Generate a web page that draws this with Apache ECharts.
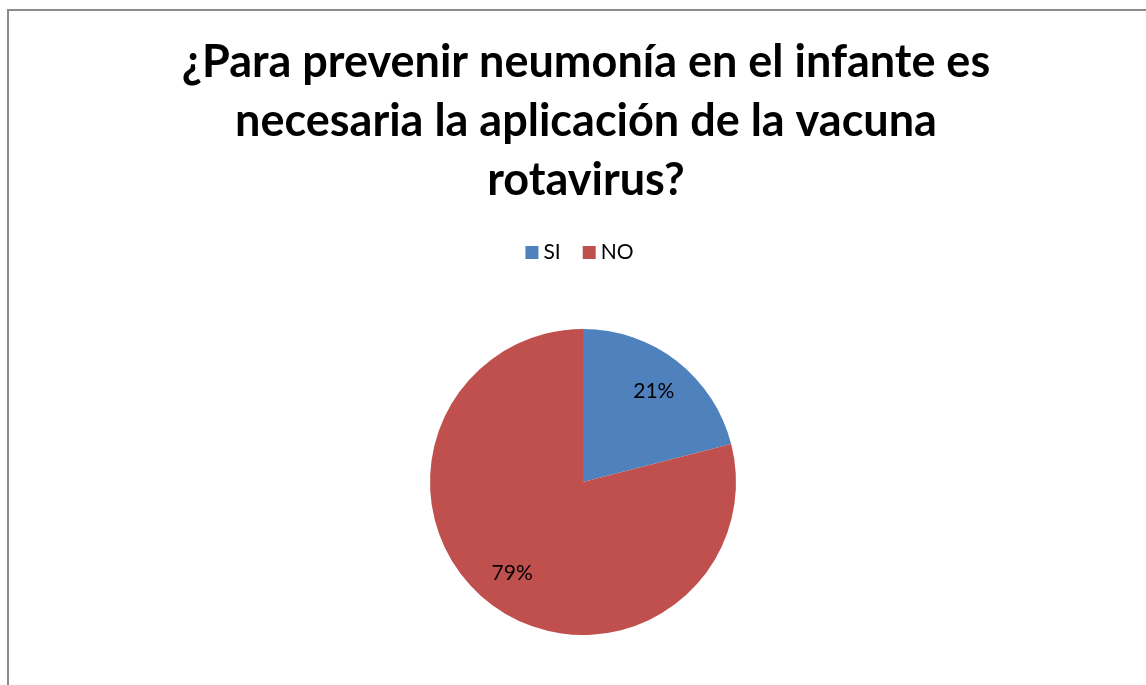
<!DOCTYPE html>
<html>
<head>
<meta charset="utf-8">
<script src="https://cdn.jsdelivr.net/npm/echarts@6/dist/echarts.min.js"></script>
<style>
  html, body { margin: 0; padding: 0; background: #fff; }
  #main { position: absolute; left: 7px; top: 9px; width: 1145px; height: 685px;
          border: 2px solid #8c8c8c; box-sizing: border-box; }
</style>
</head>
<body>
<div id="main"></div>
<script>
const categories = ['SI', 'NO'];
const values = [21, 79];
const colors = ['#4F81BD', '#C0504D'];

const chartDom = document.getElementById('main');
const myChart = echarts.init(chartDom);

const seriesData = categories.map(function (name, i) {
    return {value: values[i], name: name, itemStyle: {color: colors[i]}};
});

let option;

option = {
    animation: false,
    title: {
        text: '¿Para prevenir neumonía en el infante es\nnecesaria la aplicación de la vacuna\nrotavirus?',
        left: 572,
        textAlign: 'center',
        top: 17,
        textStyle: {
            fontFamily: 'Lato',
            fontWeight: 'bold',
            fontSize: 45,
            lineHeight: 59,
            color: '#000'
        }
    },
    legend: {
        left: 'center',
        top: 226,
        itemWidth: 13,
        itemHeight: 13,
        itemGap: 22,
        icon: 'rect',
        textStyle: {fontFamily: 'Lato', fontSize: 21, color: '#000'},
        data: categories
    },
    series: [
        {
            name: 'respuesta',
            type: 'pie',
            radius: 153,
            center: [574, 471],
            startAngle: 90,
            clockwise: true,
            label: {show: false},
            labelLine: {show: false},
            emphasis: {disabled: true},
            data: seriesData
        },
        {
            name: 'etiquetas',
            type: 'pie',
            radius: [72, 153],
            center: [574, 471],
            startAngle: 90,
            clockwise: true,
            silent: true,
            itemStyle: {color: 'transparent'},
            label: {
                show: true,
                position: 'inside',
                formatter: '{d}%',
                fontFamily: 'Lato',
                fontSize: 21,
                color: '#000'
            },
            labelLine: {show: false},
            data: categories.map(function (name, i) {
                return {value: values[i], name: name, itemStyle: {color: 'transparent'}};
            })
        }
    ]
};

myChart.setOption(option);
</script>
</body>
</html>
